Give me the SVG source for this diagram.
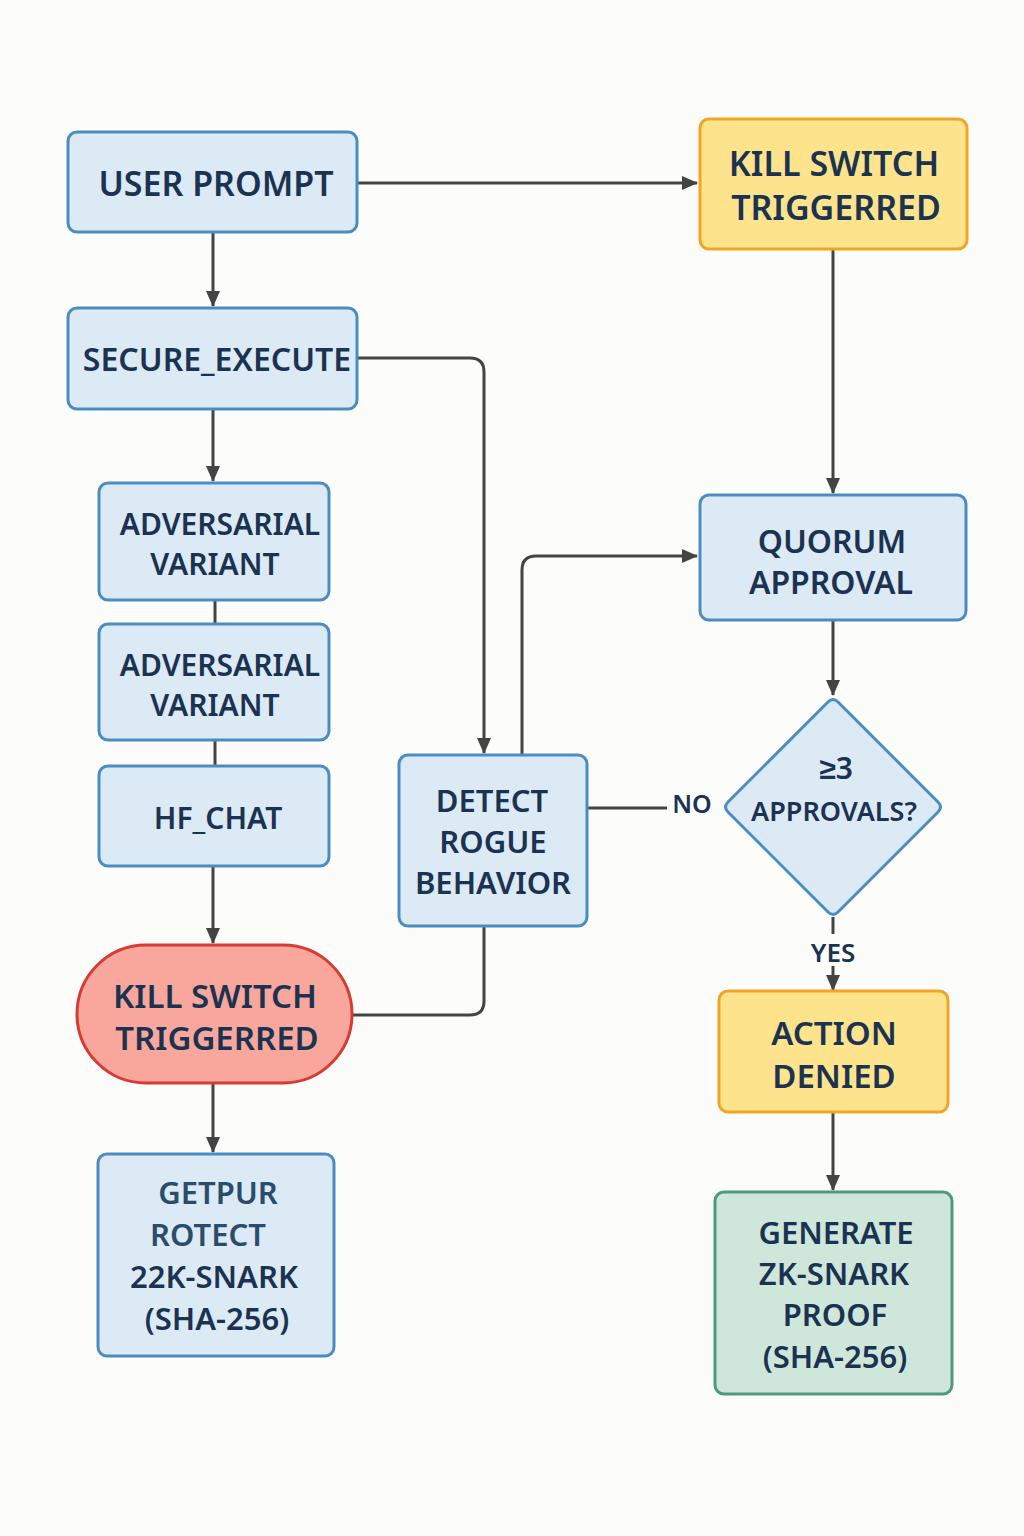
<svg xmlns="http://www.w3.org/2000/svg" width="1024" height="1536" viewBox="0 0 1024 1536">
<defs>
<marker id="arr" viewBox="0 0 16 16" refX="15" refY="8" markerWidth="16" markerHeight="16" markerUnits="userSpaceOnUse" orient="auto">
<path d="M0,1 L16,8 L0,15 Z" fill="#444"/>
</marker>
<style>
.blue{fill:#dceaf6;stroke:#4b8dc0;stroke-width:3}
.yel{fill:#fde38b;stroke:#f2a524;stroke-width:3}
.red{fill:#f9a79c;stroke:#d63c34;stroke-width:3}
.grn{fill:#cfe6db;stroke:#4e9a7f;stroke-width:3}
.t{font-family:"Noto Sans","Liberation Sans",sans-serif;font-weight:600;fill:#1b3350;text-anchor:middle;dominant-baseline:central}
.c{fill:none;stroke:#444;stroke-width:3}
</style>
</defs>
<rect width="1024" height="1536" fill="#fcfcfb"/>
<g id="connectors">
<path class="c" d="M357,183 H697" marker-end="url(#arr)"/>
<path class="c" d="M213,232 V306" marker-end="url(#arr)"/>
<path class="c" d="M357,358 H470 Q484,358 484,372 V753" marker-end="url(#arr)"/>
<path class="c" d="M213,409 V481" marker-end="url(#arr)"/>
<path class="c" d="M215,600 V624"/>
<path class="c" d="M215,740 V766"/>
<path class="c" d="M213,866 V943" marker-end="url(#arr)"/>
<path class="c" d="M213,1083 V1152" marker-end="url(#arr)"/>
<path class="c" d="M484,926 V1001 Q484,1015 470,1015 H352"/>
<path class="c" d="M522,755 V570 Q522,556 536,556 H697" marker-end="url(#arr)"/>
<path class="c" d="M833,249 V493" marker-end="url(#arr)"/>
<path class="c" d="M833,620 V695" marker-end="url(#arr)"/>
<path class="c" d="M587,808 H667"/>
<text class="t" x="692" y="803" font-size="25">NO</text>
<path class="c" d="M833,917 V934"/>
<text class="t" x="833" y="952" font-size="26">YES</text>
<path class="c" d="M833,966 V990" marker-end="url(#arr)"/>
<path class="c" d="M833,1112 V1190" marker-end="url(#arr)"/>
</g>
<g id="user-prompt">
<rect class="blue" x="68" y="132" width="289" height="100" rx="9"/>
<text class="t" x="216" y="183" font-size="34">USER PROMPT</text>
</g>
<g id="secure-execute">
<rect class="blue" x="68" y="308" width="289" height="101" rx="9"/>
<text class="t" x="217" y="358" font-size="32">SECURE_EXECUTE</text>
</g>
<g id="adv1">
<rect class="blue" x="99" y="483" width="230" height="117" rx="9"/>
<text class="t" x="220" y="523" font-size="30">ADVERSARIAL</text>
<text class="t" x="215" y="563" font-size="30">VARIANT</text>
</g>
<g id="adv2">
<rect class="blue" x="99" y="624" width="230" height="116" rx="9"/>
<text class="t" x="220" y="664" font-size="30">ADVERSARIAL</text>
<text class="t" x="215" y="704" font-size="30">VARIANT</text>
</g>
<g id="hf-chat">
<rect class="blue" x="99" y="766" width="230" height="100" rx="9"/>
<text class="t" x="218" y="817" font-size="30">HF_CHAT</text>
</g>
<g id="kill-red">
<rect class="red" x="77" y="945" width="275" height="138" rx="69"/>
<text class="t" x="215" y="995" font-size="33">KILL SWITCH</text>
<text class="t" x="217" y="1037" font-size="33">TRIGGERRED</text>
</g>
<g id="getpur">
<rect class="blue" x="98" y="1154" width="236" height="202" rx="9"/>
<text class="t" x="218" y="1192" font-size="31" style="fill:#2c4c6b">GETPUR</text>
<text class="t" x="208" y="1234" font-size="31" style="fill:#2c4c6b">ROTECT</text>
<text class="t" x="214" y="1276" font-size="31">22Ƙ-SNARK</text>
<text class="t" x="217" y="1318" font-size="31">(SHA-256)</text>
</g>
<g id="kill-yellow">
<rect class="yel" x="700" y="119" width="267" height="130" rx="9"/>
<text class="t" x="834" y="163" font-size="34">KILL SWITCH</text>
<text class="t" x="836" y="207" font-size="34">TRIGGERRED</text>
</g>
<g id="quorum">
<rect class="blue" x="700" y="495" width="266" height="125" rx="9"/>
<text class="t" x="832" y="540" font-size="32">QUORUM</text>
<text class="t" x="831" y="581" font-size="32">APPROVAL</text>
</g>
<g id="decision">
<path class="blue" d="M828,702 Q833,697 838,702 L938,802 Q943,807 938,812 L838,912 Q833,917 828,912 L728,812 Q723,807 728,802 Z" stroke-linejoin="round"/>
<text class="t" x="836" y="767" font-size="30">≥3</text>
<text class="t" x="834" y="810" font-size="27">APPROVALS?</text>
</g>
<g id="detect">
<rect class="blue" x="399" y="755" width="188" height="171" rx="9"/>
<text class="t" x="492" y="800" font-size="31">DETECT</text>
<text class="t" x="493" y="841" font-size="31">ROGUE</text>
<text class="t" x="493" y="882" font-size="31">BEHAVIOR</text>
</g>
<g id="action-denied">
<rect class="yel" x="719" y="991" width="229" height="121" rx="9"/>
<text class="t" x="834" y="1032" font-size="33">ACTION</text>
<text class="t" x="834" y="1075" font-size="33">DENIED</text>
</g>
<g id="generate">
<rect class="grn" x="715" y="1192" width="237" height="202" rx="9"/>
<text class="t" x="836" y="1232" font-size="31">GENERATE</text>
<text class="t" x="834" y="1273" font-size="31">ZK-SNARK</text>
<text class="t" x="835" y="1314" font-size="31">PROOF</text>
<text class="t" x="835" y="1356" font-size="31">(SHA-256)</text>
</g>
</svg>
